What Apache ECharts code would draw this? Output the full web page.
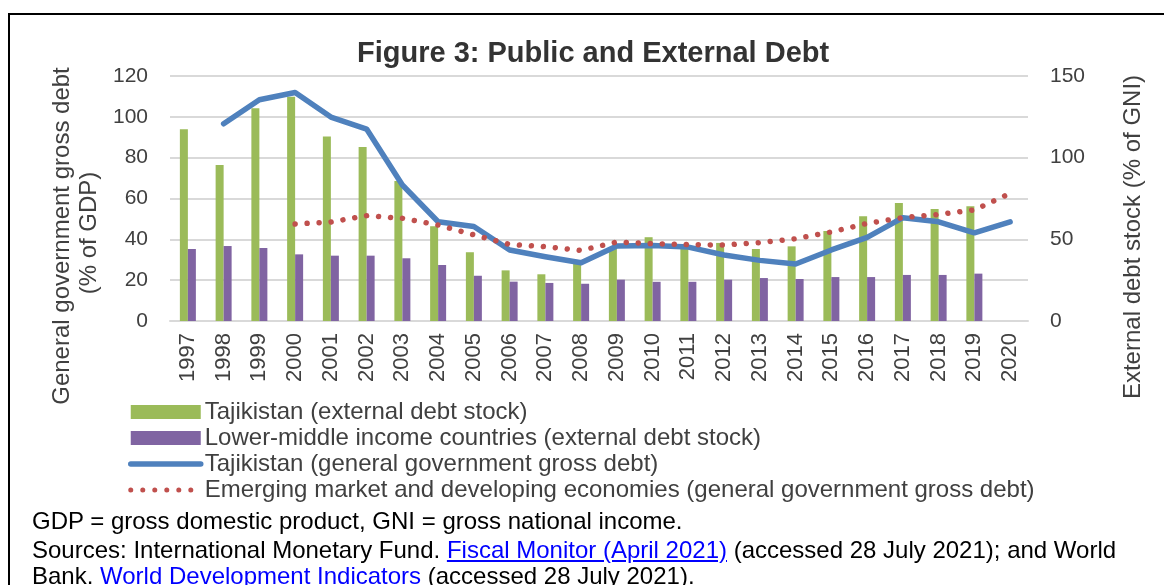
<!DOCTYPE html>
<html>
<head>
<meta charset="utf-8">
<script src="https://cdn.jsdelivr.net/npm/echarts@6/dist/echarts.min.js"></script>
<style>
  html, body { margin: 0; padding: 0; background: #fff; overflow: hidden; }
  #wrap { position: relative; width: 1164px; height: 585px; overflow: hidden; }
  #frame { position: absolute; left: 8px; top: 13px; width: 1200px; height: 620px; border: 2px solid #000; box-sizing: border-box; }
  #chart { position: absolute; left: 0; top: 0; width: 1164px; height: 585px; }
  .note { position: absolute; left: 32px; font-family: 'Liberation Sans', Arial, sans-serif; font-size: 24px; color: #000; white-space: nowrap; line-height: 26px; }
  .note .lnk { color: #0000ff; text-decoration: underline; }
</style>
</head>
<body>
<div id="wrap">
  <div id="frame"></div>
  <div id="chart"></div>
  <div class="note" style="top:508px">GDP = gross domestic product, GNI = gross national income.</div>
  <div class="note" style="top:537px">Sources: International Monetary Fund. <span class="lnk">Fiscal Monitor (April 2021)</span> (accessed 28 July 2021); and World</div>
  <div class="note" style="top:563px">Bank. <span class="lnk">World Development Indicators</span> (accessed 28 July 2021).</div>
</div>
<script>
const years = ['1997', '1998', '1999', '2000', '2001', '2002', '2003', '2004', '2005', '2006', '2007', '2008',
  '2009', '2010', '2011', '2012', '2013', '2014', '2015', '2016', '2017', '2018', '2019', '2020']

// external debt stock, % of GNI (right axis)
const tjkExternal = [117.4, 95.5, 130.2, 137.3, 113, 106.5, 85.7, 58, 42.1, 31, 28.6, 35.5,
  45.3, 51.3, 46, 47.8, 44.1, 45.7, 55.1, 64.1, 72.3, 68.6, 70.2, null]
const lmicExternal = [44.1, 45.9, 44.7, 40.8, 40, 40, 38.4, 34.3, 27.7, 24.1, 23.3, 22.8,
  25.3, 24, 24, 25.3, 26.3, 25.7, 26.9, 26.9, 28.2, 28.2, 29, null]

// general government gross debt, % of GDP (left axis)
const tjkGovDebt = [null, 96.6, 108.4, 111.9, 99.9, 94, 66.6, 48.6, 46.3, 34.8, 31.5, 28.5,
  36.7, 37, 36.2, 32.3, 29.7, 27.9, 34.8, 41, 50.6, 48.6, 43.2, 48.6]
const emdeGovDebt = [null, null, null, 47.5, 48.5, 51.6, 50.3, 47, 42.2, 37.5, 36.4, 34.6,
  38.7, 37.9, 37.4, 37.2, 38.4, 40.3, 43.6, 47.8, 50.6, 52.2, 54.4, 62.5]

const leftTicks = { min: 0, max: 120, interval: 20 }
const rightTicks = { min: 0, max: 150, interval: 50 }

const FONT = "'Liberation Sans', Arial, sans-serif"
const TXT = '#404040'
const noSymbol = { color: 'rgba(0,0,0,0)', borderColor: 'rgba(0,0,0,0)', borderWidth: 0 }

const chart = echarts.init(document.getElementById('chart'), null, { renderer: 'canvas' })

chart.setOption({
  animation: false,
  backgroundColor: 'transparent',
  textStyle: { fontFamily: FONT, color: TXT },
  title: {
    text: 'Figure 3: Public and External Debt',
    left: 352,
    top: 34,
    textStyle: { fontSize: 29, fontWeight: 'bold', color: '#333', fontFamily: FONT }
  },
  legend: {
    orient: 'vertical',
    left: 123,
    top: 395,
    itemWidth: 70,
    itemHeight: 14,
    itemGap: 2,
    textStyle: { fontSize: 24, color: TXT, fontFamily: FONT, padding: [0, 0, 0, -1] },
    data: [
      { name: 'Tajikistan (external debt stock)', icon: 'rect' },
      { name: 'Lower-middle income countries (external debt stock)', icon: 'rect' },
      { name: 'Tajikistan (general government gross debt)', itemStyle: noSymbol, lineStyle: { width: 5.5, cap: 'round' } },
      { name: 'Emerging market and developing economies (general government gross debt)', itemStyle: noSymbol, lineStyle: { width: 5, type: [0.01, 12], cap: 'round' } }
    ]
  },
  grid: { left: 170, right: 136, top: 76, bottom: 264, containLabel: false },
  xAxis: {
    type: 'category',
    data: years,
    axisLine: { lineStyle: { color: '#d9d9d9', width: 2 } },
    axisTick: { show: false },
    axisLabel: { rotate: 90, fontSize: 22, color: TXT, margin: 12, fontFamily: FONT }
  },
  yAxis: [
    {
      type: 'value',
      ...leftTicks,
      axisLine: { show: false },
      axisTick: { show: false },
      axisLabel: { fontSize: 21, color: TXT, margin: 22, fontFamily: FONT },
      splitLine: { lineStyle: { color: '#d9d9d9', width: 2 } }
    },
    {
      type: 'value',
      ...rightTicks,
      position: 'right',
      axisLine: { show: false },
      axisTick: { show: false },
      axisLabel: { fontSize: 21, color: TXT, margin: 22, fontFamily: FONT },
      splitLine: { show: false }
    }
  ],
  graphic: [
    {
      type: 'text', x: 62, y: 236, rotation: Math.PI / 2,
      style: { text: 'General government gross debt', font: '24px ' + FONT, fill: TXT, align: 'center', verticalAlign: 'middle' }
    },
    {
      type: 'text', x: 89, y: 233, rotation: Math.PI / 2,
      style: { text: '(% of GDP)', font: '24px ' + FONT, fill: TXT, align: 'center', verticalAlign: 'middle' }
    },
    {
      type: 'text', x: 1133, y: 237, rotation: Math.PI / 2,
      style: { text: 'External debt stock (% of GNI)', font: '24px ' + FONT, fill: TXT, align: 'center', verticalAlign: 'middle' }
    }
  ],
  series: [
    {
      name: 'Tajikistan (external debt stock)',
      type: 'bar',
      yAxisIndex: 1,
      data: tjkExternal,
      barWidth: 8,
      barGap: '0%',
      itemStyle: { color: '#9bbb59' }
    },
    {
      name: 'Lower-middle income countries (external debt stock)',
      type: 'bar',
      yAxisIndex: 1,
      data: lmicExternal,
      barWidth: 8,
      barGap: '0%',
      itemStyle: { color: '#8064a2' }
    },
    {
      name: 'Tajikistan (general government gross debt)',
      type: 'line',
      yAxisIndex: 0,
      data: tjkGovDebt,
      symbol: 'none',
      lineStyle: { color: '#4f81bd', width: 5.5, join: 'round', cap: 'round' },
      itemStyle: { color: '#4f81bd' },
      z: 3
    },
    {
      name: 'Emerging market and developing economies (general government gross debt)',
      type: 'line',
      yAxisIndex: 0,
      data: emdeGovDebt,
      symbol: 'none',
      lineStyle: { color: '#c0504d', width: 5.5, type: [0.01, 12], cap: 'round' },
      itemStyle: { color: '#c0504d' },
      z: 4
    }
  ]
})
</script>
</body>
</html>
